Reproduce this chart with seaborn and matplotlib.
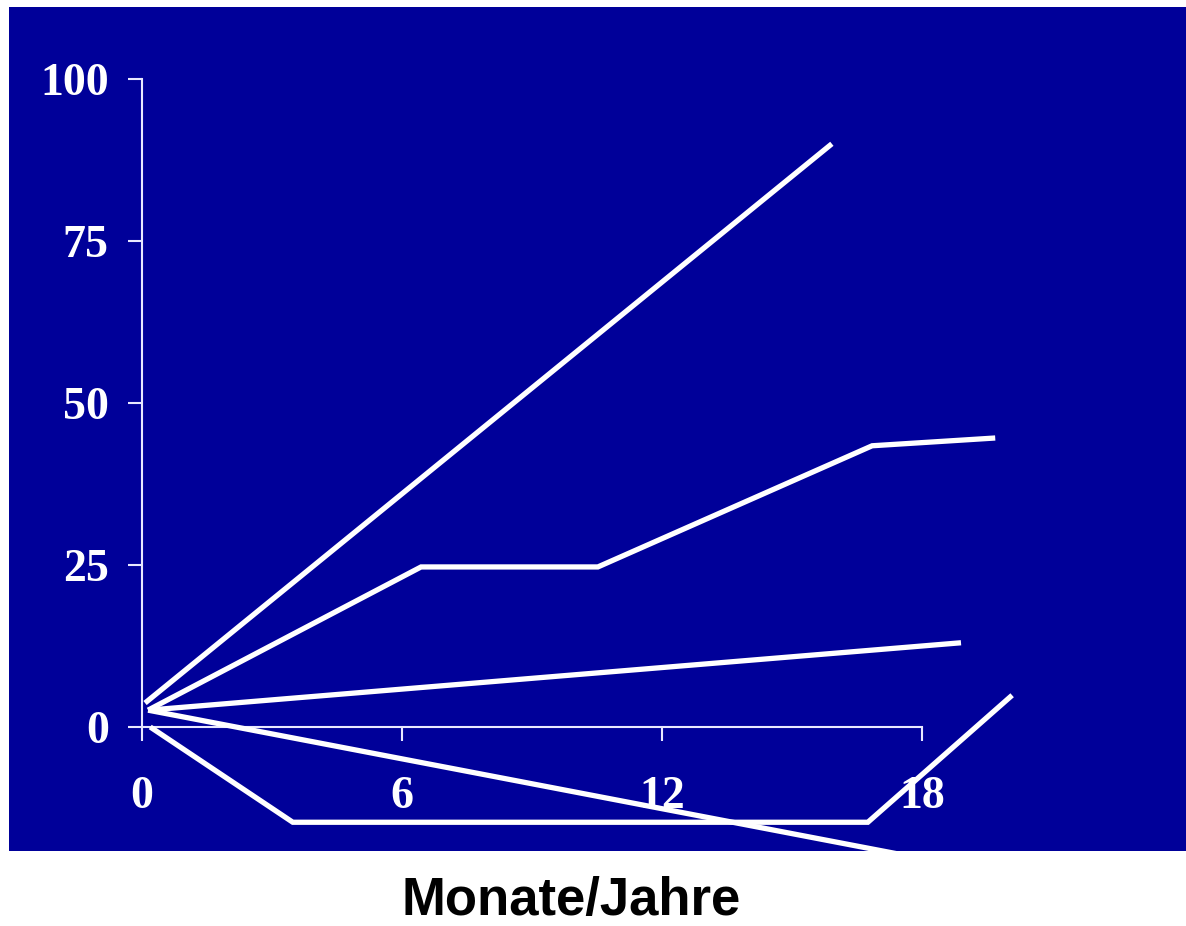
import numpy as np
import pandas as pd
import matplotlib
matplotlib.use("Agg")
import matplotlib.pyplot as plt
import seaborn as sns

# Data (x in months/years, y in %)
s1_x = [0.07, 15.92]
s1_y = [3.7, 90.0]
s2_x = [0.14, 6.44, 10.52, 16.85, 19.69]
s2_y = [2.6, 24.7, 24.7, 43.4, 44.6]
s3_x = [0.14, 18.9]
s3_y = [2.6, 13.0]
s4_x = [0.14, 18.0]
s4_y = [2.6, -20.3]
s5_x = [0.19, 3.48, 16.75, 20.08]
s5_y = [0.0, -14.7, -14.7, 4.9]

x_ticks = [0, 6, 12, 18]
y_ticks = [0, 25, 50, 75, 100]
x_label = "Monate/Jahre"

frames = []
for i, (xs, ys) in enumerate([(s1_x, s1_y), (s2_x, s2_y), (s3_x, s3_y),
                              (s4_x, s4_y), (s5_x, s5_y)]):
    frames.append(pd.DataFrame({"x": xs, "y": ys, "series": i,
                                "order": range(len(xs))}))
df = pd.concat(frames, ignore_index=True)

W, H = 1186, 926
fig = plt.figure(figsize=(W / 100, H / 100), dpi=100)
fig.patch.set_facecolor("white")

# panel in pixels
pl, pr, pt, pb = 9, 1186, 7, 851
ax = fig.add_axes([pl / W, (H - pb) / H, (pr - pl) / W, (pb - pt) / H])
ax.set_facecolor("#000099")

# axis mapping: x=0 at px 142, x=18 at px 922; y=0 at px 727, y=100 at px 79
x0px, x18px = 142, 922
y0px, y100px = 727, 79
xs_ = (x18px - x0px) / 18.0
ys_ = (y0px - y100px) / 100.0
ax.set_xlim((pl - x0px) / xs_, (pr - x0px) / xs_)
ax.set_ylim((y0px - pb) / ys_, (y0px - pt) / ys_)

sns.lineplot(data=df, x="x", y="y", units="series", estimator=None,
             sort=False, color="white", linewidth=3.8, ax=ax, legend=False)
for ln in ax.get_lines():
    ln.set_solid_capstyle("butt")
    ln.set_solid_joinstyle("miter")
    ln.set_zorder(5)

axis_col = "#E8E8FF"
for s in ["top", "right"]:
    ax.spines[s].set_visible(False)
ax.spines["left"].set_position(("data", 0))
ax.spines["bottom"].set_position(("data", 0))
ax.spines["left"].set_bounds(0, 100)
ax.spines["bottom"].set_bounds(0, 18)
for s in ["left", "bottom"]:
    ax.spines[s].set_color(axis_col)
    ax.spines[s].set_linewidth(1.5)

ax.set_xticks(x_ticks)
ax.set_yticks(y_ticks)
ax.set_xticklabels([str(v) for v in x_ticks])
ax.set_yticklabels([str(v) for v in y_ticks])
ax.tick_params(axis="both", direction="out", length=10, width=1.5,
               color=axis_col, labelcolor="white", labelsize=33)
ax.tick_params(axis="y", pad=14)
ax.tick_params(axis="x", pad=25)
for lab in ax.get_xticklabels() + ax.get_yticklabels():
    lab.set_fontfamily("Liberation Serif")
    lab.set_fontweight("bold")
ax.set_xlabel("")
ax.set_ylabel("")

fig.text(571 / W, (H - 915) / H, x_label, ha="center", va="baseline",
         fontsize=38, fontweight="bold", family="Liberation Sans",
         color="black")

fig.savefig("out.png", dpi=100, facecolor="white")
